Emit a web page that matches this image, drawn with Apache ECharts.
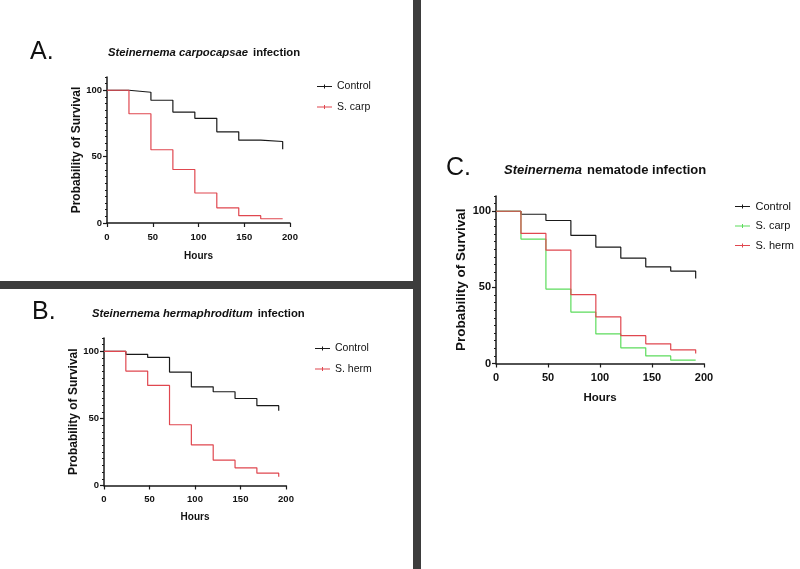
<!DOCTYPE html>
<html>
<head>
<meta charset="utf-8">
<script src="https://cdn.jsdelivr.net/npm/echarts@6/dist/echarts.min.js"></script>
<style>
  html, body { margin: 0; padding: 0; background: #fff; }
  #main { width: 800px; height: 569px; }
</style>
</head>
<body>
<div id="main"></div>
<script>
// time points (hours) shared by every curve
var hours = [0, 24, 48, 72, 96, 120, 144, 168, 192];

// A. S. carpocapsae
var controlA = [100, 98.5, 92.5, 83.6, 78.9, 68.7, 62.4, 61.4, 55.5];
var carpA = [100, 82.3, 55.2, 40.3, 22.6, 11.4, 5.5, 3.2, 3.0];

// B. S. hermaphroditum
var controlB = [100, 97.8, 95.5, 84.6, 73.6, 69.9, 64.9, 59.5, 55.7];
var hermB = [100, 85.3, 74.6, 45.3, 30.3, 18.9, 13.2, 9.2, 6.5];

// C. both nematodes
var controlC = [100, 98.0, 93.9, 84.1, 76.4, 69.2, 63.5, 60.7, 55.9];
var carpC = [100, 81.7, 48.9, 33.8, 19.4, 10.3, 5.0, 2.2, 2.0];
var hermC = [100, 85.4, 74.5, 45.2, 30.6, 18.3, 12.9, 9.0, 6.6];

var yTicks = [0, 50, 100];

var BLACK = '#1a1a1a';
var RED = '#e0474f';
var GREEN = '#5cdc5c';
var SANS = "'Liberation Sans', Arial, sans-serif";
var LEG_ICON = 'path://M0,1.5h15v1h-15z M7,0h1v4h-1z';

var chart = echarts.init(document.getElementById('main'));

function toPoints(ys) {
    return hours.map(function (h, i) { return [h, ys[i]]; });
}

function curve(name, ys, color, idx) {
    return {
        name: name,
        type: 'line',
        step: 'end',
        xAxisIndex: idx,
        yAxisIndex: idx * 2,
        symbol: 'none',
        lineStyle: { color: color, width: 1.2 },
        itemStyle: { color: color },
        data: toPoints(ys),
        z: 3,
    };
}

function xAx(idx, fs, gap) {
    return {
        type: 'value',
        gridIndex: idx,
        min: 0,
        max: 200,
        interval: 50,
        name: 'Hours',
        nameLocation: 'middle',
        nameGap: gap,
        nameTextStyle: { fontFamily: SANS, fontWeight: 'bold', fontSize: fs + 0.5, color: '#111' },
        splitLine: { show: false },
        axisLine: { lineStyle: { color: BLACK, width: 1.5 } },
        axisTick: { length: 4, lineStyle: { color: BLACK, width: 1.2 } },
        axisLabel: { margin: 9, fontFamily: SANS, fontWeight: 'bold', fontSize: fs, color: '#111' },
    };
}

function yAxes(idx, fs, nameSize, gap) {
    return [
        {
            type: 'value',
            gridIndex: idx,
            min: 0,
            max: 110,
            interval: 5,
            name: 'Probability of Survival',
            nameLocation: 'middle',
            nameGap: gap,
            nameTextStyle: { fontFamily: SANS, fontWeight: 'bold', fontSize: nameSize, color: '#111' },
            splitLine: { show: false },
            axisLine: { lineStyle: { color: BLACK, width: 1.5 } },
            axisTick: { length: 2, lineStyle: { color: BLACK, width: 1 } },
            axisLabel: { customValues: yTicks, margin: 5, fontFamily: SANS, fontWeight: 'bold', fontSize: fs, color: '#111' },
        },
        {
            // longer ticks at the labelled values
            type: 'value',
            gridIndex: idx,
            min: 0,
            max: 110,
            position: 'left',
            splitLine: { show: false },
            axisLine: { show: false },
            axisTick: { customValues: yTicks, length: 4, lineStyle: { color: BLACK, width: 1.2 } },
            axisLabel: { show: false },
        },
    ];
}

function legendItem(name, color) {
    return { name: name, icon: LEG_ICON, itemStyle: { color: color }, lineStyle: { color: color } };
}

var titleRich = function (fs) {
    return {
        i: { fontFamily: SANS, fontStyle: 'italic', fontWeight: 'bold', fontSize: fs, color: '#111' },
        b: { fontFamily: SANS, fontWeight: 'bold', fontSize: fs, color: '#111' },
    };
};

var option = {
    backgroundColor: '#fff',
    animation: false,
    title: [
        { text: '{i|Steinernema carpocapsae} {b|infection}', left: 103, top: 39, textStyle: { rich: titleRich(11.3) } },
        { text: '{i|Steinernema hermaphroditum} {b|infection}', left: 87, top: 300, textStyle: { rich: titleRich(11.3) } },
        { text: '{i|Steinernema} {b|nematode infection}', left: 499, top: 156, textStyle: { rich: titleRich(13) } },
    ],
    graphic: [
        { type: 'rect', shape: { x: 0, y: 281, width: 414, height: 8 }, style: { fill: '#3d3d3d' }, z: 10 },
        { type: 'rect', shape: { x: 413, y: 0, width: 8, height: 569 }, style: { fill: '#3d3d3d' }, z: 10 },
        { type: 'text', x: 30, y: 52, style: { text: 'A.', font: '25px ' + SANS, fill: '#111', verticalAlign: 'middle' } },
        { type: 'text', x: 32, y: 312, style: { text: 'B.', font: '25px ' + SANS, fill: '#111', verticalAlign: 'middle' } },
        { type: 'text', x: 446, y: 168, style: { text: 'C.', font: '25px ' + SANS, fill: '#111', verticalAlign: 'middle' } },
    ],
    legend: [
        {
            orient: 'vertical', left: 317, top: 81, padding: 0, itemWidth: 15, itemHeight: 4, itemGap: 9.5,
            textStyle: { fontFamily: SANS, fontSize: 10.5, color: '#111' },
            data: [legendItem('Control', BLACK), legendItem('S. carp', RED)],
        },
        {
            orient: 'vertical', left: 315, top: 343, padding: 0, itemWidth: 15, itemHeight: 4, itemGap: 9.5,
            textStyle: { fontFamily: SANS, fontSize: 10.5, color: '#111' },
            data: [legendItem('Control', BLACK), legendItem('S. herm', RED)],
        },
        {
            orient: 'vertical', left: 735, top: 201, padding: 0, itemWidth: 16, itemHeight: 4, itemGap: 8.5,
            textStyle: { fontFamily: SANS, fontSize: 11, color: '#111' },
            data: [legendItem('Control', BLACK), legendItem('S. carp', GREEN), legendItem('S. herm', RED)],
        },
    ],
    grid: [
        { left: 107, top: 77, width: 183, height: 146 },
        { left: 104, top: 338, width: 182, height: 147.5 },
        { left: 496, top: 196, width: 208, height: 167.5 },
    ],
    xAxis: [xAx(0, 9.5, 28), xAx(1, 9.5, 27), xAx(2, 11, 28)],
    yAxis: [].concat(yAxes(0, 9.5, 12, 18), yAxes(1, 9.5, 12, 18), yAxes(2, 11, 13.5, 20)),
    series: [
        curve('Control', controlA, BLACK, 0),
        curve('S. carp', carpA, RED, 0),
        curve('Control', controlB, BLACK, 1),
        curve('S. herm', hermB, RED, 1),
        curve('Control', controlC, BLACK, 2),
        curve('S. carp', carpC, GREEN, 2),
        curve('S. herm', hermC, RED, 2),
    ],
};

chart.setOption(option);
</script>
</body>
</html>
